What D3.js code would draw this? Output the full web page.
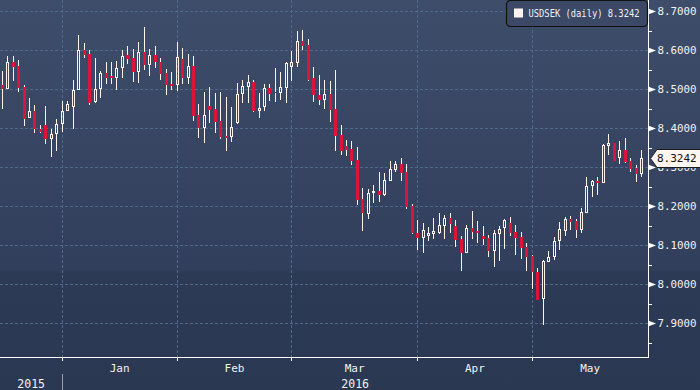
<!DOCTYPE html>
<html><head><meta charset="utf-8">
<script src="https://cdn.jsdelivr.net/npm/d3@7"></script>
<style>html,body{margin:0;padding:0;background:#2b3853;}svg{display:block}</style>
</head><body><svg id="c" width="700" height="390"></svg>
<script>
// ---- data (USDSEK daily, 17 Dec 2015 - 30 May 2016, weekdays) ----
const startDate = "2015-12-17";
const endDate = "2016-05-30";
const open = [8.5097, 8.5010, 8.5694, 8.5591, 8.5054, 8.4267, 8.4439, 8.3978, 8.4072, 8.3729,
8.3842, 8.4098, 8.4431, 8.4534, 8.4969, 8.6001, 8.5899, 8.4662, 8.4995, 8.5412,
8.5323, 8.5292, 8.5533, 8.5873, 8.5796, 8.5430, 8.5942, 8.5617, 8.5866, 8.5694,
8.5412, 8.5123, 8.5097, 8.5771, 8.5292, 8.5591, 8.4336, 8.4011, 8.4567, 8.4490,
8.4183, 8.3798, 8.3780, 8.4139, 8.4866, 8.5061, 8.5182, 8.4446, 8.4549, 8.5028,
8.4892, 8.4907, 8.5036, 8.5574, 8.5676, 8.6224, 8.6129, 8.5292, 8.4841, 8.4721,
8.4874, 8.4490, 8.3824, 8.3542, 8.3465, 8.3184, 8.2177, 8.1808, 8.2346, 8.2390,
8.2287, 8.2653, 8.2935, 8.3081, 8.2876, 8.2005, 8.1306, 8.1198, 8.1245, 8.1288,
8.1321, 8.1501, 8.1698, 8.1493, 8.1168, 8.0809, 8.1442, 8.1365, 8.1237, 8.1186,
8.0860, 8.1296, 8.1434, 8.1570, 8.1339, 8.1211, 8.0955, 8.0725, 8.0307, 7.9615,
8.0579, 8.0691, 8.1117, 8.1373, 8.1672, 8.1613, 8.1391, 8.1834, 8.2518, 8.2638,
8.2587, 8.3550, 8.3611, 8.3227, 8.3440, 8.3158, 8.2986, 8.2833];
const high = [8.5463, 8.5848, 8.5848, 8.5745, 8.5105, 8.4772, 8.4592, 8.4088, 8.4567, 8.3985,
8.4242, 8.4695, 8.4695, 8.5233, 8.6386, 8.6181, 8.6001, 8.5789, 8.5463, 8.5686,
8.5694, 8.5727, 8.6009, 8.6096, 8.6027, 8.6198, 8.6590, 8.6019, 8.6096, 8.5789,
8.5515, 8.5438, 8.6198, 8.6045, 8.5891, 8.5840, 8.4610, 8.4918, 8.5054, 8.4907,
8.4933, 8.4797, 8.4534, 8.5164, 8.5233, 8.5361, 8.5233, 8.4900, 8.5130, 8.5130,
8.5540, 8.5438, 8.5702, 8.5968, 8.6488, 8.6514, 8.6283, 8.5574, 8.5361, 8.5233,
8.5215, 8.5489, 8.4080, 8.3696, 8.3670, 8.3524, 8.2459, 8.2441, 8.2543, 8.2869,
8.2858, 8.3150, 8.3158, 8.3235, 8.3081, 8.2057, 8.1647, 8.1578, 8.1460, 8.1698,
8.1826, 8.1775, 8.1826, 8.1647, 8.1237, 8.1519, 8.1877, 8.1621, 8.1493, 8.1263,
8.1391, 8.1493, 8.1672, 8.1724, 8.1511, 8.1339, 8.1058, 8.0750, 8.0417, 8.0622,
8.0853, 8.1219, 8.1596, 8.1716, 8.1749, 8.1680, 8.1946, 8.2748, 8.2671, 8.2741,
8.3593, 8.3850, 8.3611, 8.3670, 8.3739, 8.3227, 8.3056, 8.3440];
const low = [8.4482, 8.5002, 8.5207, 8.4933, 8.4055, 8.4267, 8.3883, 8.3868, 8.3586, 8.3268,
8.3414, 8.3901, 8.4431, 8.3970, 8.4969, 8.5804, 8.4592, 8.4636, 8.4764, 8.5130,
8.5130, 8.4984, 8.5292, 8.5650, 8.5182, 8.5164, 8.5497, 8.5343, 8.5540, 8.5241,
8.4849, 8.4984, 8.4959, 8.5130, 8.5138, 8.4183, 8.3755, 8.3627, 8.4124, 8.3883,
8.3722, 8.3422, 8.3652, 8.4106, 8.4636, 8.4651, 8.4421, 8.4267, 8.4446, 8.4695,
8.4669, 8.4721, 8.4651, 8.5207, 8.5574, 8.6001, 8.5207, 8.4677, 8.4592, 8.4482,
8.4165, 8.3422, 8.3312, 8.3294, 8.3056, 8.2031, 8.1373, 8.1672, 8.2075, 8.2108,
8.2262, 8.2653, 8.2884, 8.2646, 8.1928, 8.1288, 8.0878, 8.0801, 8.1109, 8.1160,
8.1288, 8.1160, 8.1321, 8.0963, 8.0340, 8.0809, 8.1168, 8.1058, 8.1006, 8.0707,
8.0451, 8.0604, 8.0904, 8.1229, 8.0750, 8.0648, 8.0348, 7.9879, 7.9598, 7.8957,
8.0563, 8.0622, 8.0878, 8.1245, 8.1391, 8.1193, 8.1321, 8.1834, 8.2244, 8.2279,
8.2587, 8.3319, 8.3166, 8.3074, 8.3099, 8.2884, 8.2628, 8.2741];
const close = [8.5002, 8.5686, 8.5574, 8.5036, 8.4234, 8.4439, 8.3970, 8.3909, 8.3729, 8.3850,
8.4098, 8.4439, 8.4610, 8.4969, 8.5994, 8.5881, 8.4651, 8.5010, 8.5412, 8.5292,
8.5284, 8.5540, 8.5840, 8.5778, 8.5430, 8.5942, 8.5625, 8.5866, 8.5686, 8.5387,
8.5112, 8.5079, 8.5814, 8.5292, 8.5584, 8.4318, 8.4011, 8.4329, 8.4464, 8.4165,
8.3780, 8.3755, 8.4037, 8.4866, 8.5079, 8.5182, 8.4439, 8.4508, 8.5020, 8.4882,
8.4925, 8.5054, 8.5676, 8.5694, 8.6224, 8.6111, 8.5233, 8.4849, 8.4721, 8.4874,
8.4464, 8.3798, 8.3414, 8.3447, 8.3166, 8.2159, 8.1813, 8.2333, 8.2390, 8.2287,
8.2671, 8.2948, 8.3081, 8.2858, 8.1975, 8.1301, 8.1198, 8.1391, 8.1306, 8.1365,
8.1519, 8.1698, 8.1552, 8.1142, 8.0809, 8.1442, 8.1339, 8.1321, 8.1168, 8.0860,
8.1306, 8.1416, 8.1647, 8.1321, 8.1193, 8.0922, 8.0707, 8.0322, 7.9598, 8.0604,
8.0691, 8.1117, 8.1409, 8.1672, 8.1603, 8.1391, 8.1844, 8.2518, 8.2646, 8.2587,
8.3568, 8.3611, 8.3166, 8.3432, 8.3140, 8.2961, 8.2833, 8.3242];
const yTicks = [7.9, 8.0, 8.1, 8.2, 8.3, 8.4, 8.5, 8.6, 8.7];
const yMinorTicks = [7.85, 7.95, 8.05, 8.15, 8.25, 8.35, 8.45, 8.55, 8.65];
const monthLabels = ["Jan", "Feb", "Mar", "Apr", "May"];
const yearLabels = ["2015", "2016"];
const seriesName = "USDSEK (daily)";
const lastValue = "8.3242";

// ---- setup ----
const W = 700, H = 390;
const plotR = 648, plotB = 357;
const FONT = "'DejaVu Sans Mono', monospace";
const svg = d3.select("#c");
const parse = d3.timeParse("%Y-%m-%d");
const dates = d3.timeDay.range(parse(startDate), d3.timeDay.offset(parse(endDate), 1))
  .filter(d => d.getDay() !== 0 && d.getDay() !== 6);
const data = dates.map((d, i) => ({date: d, o: open[i], h: high[i], l: low[i], c: close[i]}));

const step = 5.465;
const x = d3.scaleBand().domain(dates.map(d => +d))
  .range([2.2 - step / 2, 2.2 - step / 2 + step * dates.length]).padding(0);
const cx = d => x(+d) + x.bandwidth() / 2;
const y = d3.scaleLinear().domain([7.8137, 8.7282]).range([plotB, 0]);

// background
const defs = svg.append("defs");
const g = defs.append("linearGradient").attr("id", "bg").attr("x1", 0).attr("y1", 0).attr("x2", 0).attr("y2", 1);
g.append("stop").attr("offset", 0).attr("stop-color", "#3e4d6a");
g.append("stop").attr("offset", 0.69).attr("stop-color", "#313f5c");
g.append("stop").attr("offset", 0.7).attr("stop-color", "#2d3a56");
g.append("stop").attr("offset", 1).attr("stop-color", "#2b3852");
svg.append("rect").attr("width", W).attr("height", H).attr("fill", "url(#bg)");

// month boundaries (first weekday of each month)
const monthStarts = [];
dates.forEach((d, i) => { if (i > 0 && d.getMonth() !== dates[i - 1].getMonth()) monthStarts.push(d); });
const px = d => Math.floor(cx(d)) + 0.5;

// gridlines
const grid = svg.append("g").attr("stroke", "#4f6a88").attr("stroke-width", 1).attr("stroke-dasharray", "3,2");
grid.selectAll("line.h").data(yTicks).join("line")
  .attr("x1", 0).attr("x2", plotR).attr("y1", d => Math.round(y(d)) + 0.5).attr("y2", d => Math.round(y(d)) + 0.5);
grid.selectAll("line.v").data(monthStarts).join("line")
  .attr("y1", 0).attr("y2", plotB).attr("x1", px).attr("x2", px);

// candles
const WHITE = "#fff3ec", RED = "#dc143c";
const cg = svg.append("g");
data.forEach(d => {
  const c = Math.floor(cx(d.date));
  const up = d.c >= d.o;
  const yt = Math.round(y(Math.max(d.o, d.c)));
  const yb = Math.max(Math.round(y(Math.min(d.o, d.c))), yt + 1);
  const yh = Math.round(y(d.h)), yl = Math.round(y(d.l));
  if (up) {
    if (yh < yt) cg.append("line").attr("x1", c + 0.5).attr("x2", c + 0.5).attr("y1", yh).attr("y2", yt).attr("stroke", WHITE);
    if (yl > yb) cg.append("line").attr("x1", c + 0.5).attr("x2", c + 0.5).attr("y1", yb).attr("y2", yl).attr("stroke", WHITE);
    cg.append("rect").attr("x", c - 0.5).attr("y", yt + 0.5).attr("width", 2).attr("height", Math.max(yb - yt - 1, 0))
      .attr("fill", "none").attr("stroke", WHITE).attr("stroke-width", 1);
  } else {
    cg.append("line").attr("x1", c + 0.5).attr("x2", c + 0.5).attr("y1", yh).attr("y2", yl).attr("stroke", WHITE);
    cg.append("rect").attr("x", c - 1).attr("y", yt).attr("width", 3).attr("height", Math.max(yb - yt, 1)).attr("fill", RED);
  }
});

// axes lines
svg.append("line").attr("x1", 0).attr("x2", plotR + 1).attr("y1", plotB + 0.5).attr("y2", plotB + 0.5).attr("stroke", "#ffffff");
svg.append("line").attr("x1", plotR + 0.5).attr("x2", plotR + 0.5).attr("y1", 0).attr("y2", plotB + 1).attr("stroke", "#ffffff");

// bottom month ticks
svg.append("g").selectAll("line").data(monthStarts).join("line")
  .attr("x1", px).attr("x2", px).attr("y1", plotB).attr("y2", plotB + 4).attr("stroke", "#ffffff");

// month labels centred in month span
const bounds = monthStarts.map(d => cx(d)).concat([plotR]);
svg.append("g").selectAll("text").data(monthLabels).join("text")
  .attr("x", (d, i) => (bounds[i] + bounds[i + 1]) / 2).attr("y", 371.5)
  .attr("text-anchor", "middle").attr("fill", "#f2f2f2").attr("font-family", FONT).attr("font-size", 11)
  .text(d => d);
// year labels
const yearSpans = [[0, cx(monthStarts[0])], [cx(monthStarts[0]), plotR]];
svg.append("g").selectAll("text").data(yearLabels).join("text")
  .attr("x", (d, i) => (yearSpans[i][0] + yearSpans[i][1]) / 2).attr("y", 387.5)
  .attr("text-anchor", "middle").attr("fill", "#f2f2f2").attr("font-family", FONT).attr("font-size", 11.5)
  .text(d => d);
svg.append("line").attr("x1", px(monthStarts[0])).attr("x2", px(monthStarts[0])).attr("y1", 374).attr("y2", 390)
  .attr("stroke", "#9aa0ad");

// right axis
const ra = svg.append("g");
ra.selectAll("line").data(yMinorTicks).join("line")
  .attr("x1", plotR).attr("x2", plotR + 4).attr("y1", d => Math.round(y(d)) + 0.5).attr("y2", d => Math.round(y(d)) + 0.5)
  .attr("stroke", "#ffffff");
ra.selectAll("path").data(yTicks).join("path")
  .attr("d", d => { const yy = Math.round(y(d)) + 0.5; return `M${plotR},${yy - 3}L${plotR},${yy + 3}L${plotR + 8},${yy}Z`; })
  .attr("fill", "#ffffff");
ra.selectAll("text").data(yTicks).join("text")
  .attr("x", 657.5).attr("y", d => Math.round(y(d)) + 0.5).attr("dy", "0.36em")
  .attr("fill", "#f2f2f2").attr("font-family", FONT).attr("font-size", 10.8)
  .text(d => d3.format(".4f")(d));

// last price marker (drawn over the axis label, as in the original)
const yl = Math.round(y(close[close.length - 1])) + 0.5;
svg.append("path")
  .attr("d", `M650.5,${yl}L657,${yl - 9}L700.5,${yl - 9}L700.5,${yl + 9}L657,${yl + 9}Z`)
  .attr("fill", "#fdf5ef").attr("stroke", "#1c1c1c").attr("stroke-width", 1);
svg.append("text").attr("x", 657).attr("y", yl).attr("dy", "0.36em")
  .attr("fill", "#111111").attr("font-family", FONT).attr("font-size", 11)
  .text(lastValue);

// legend
const lg = svg.append("g");
lg.append("rect").attr("x", 506.5).attr("y", 0.5).attr("width", 141).attr("height", 26).attr("rx", 4)
  .attr("fill", "#3b4966").attr("stroke", "#111111").attr("stroke-width", 1.2);
lg.append("rect").attr("x", 514).attr("y", 8.5).attr("width", 9).attr("height", 9).attr("fill", WHITE);
lg.append("text").attr("x", 528.5).attr("y", 13.5).attr("dy", "0.36em")
  .attr("fill", "#eef0f5").attr("font-family", FONT).attr("font-size", 10)
  .attr("textLength", 111).attr("lengthAdjust", "spacingAndGlyphs")
  .text(seriesName + " " + lastValue);
</script></body></html>
